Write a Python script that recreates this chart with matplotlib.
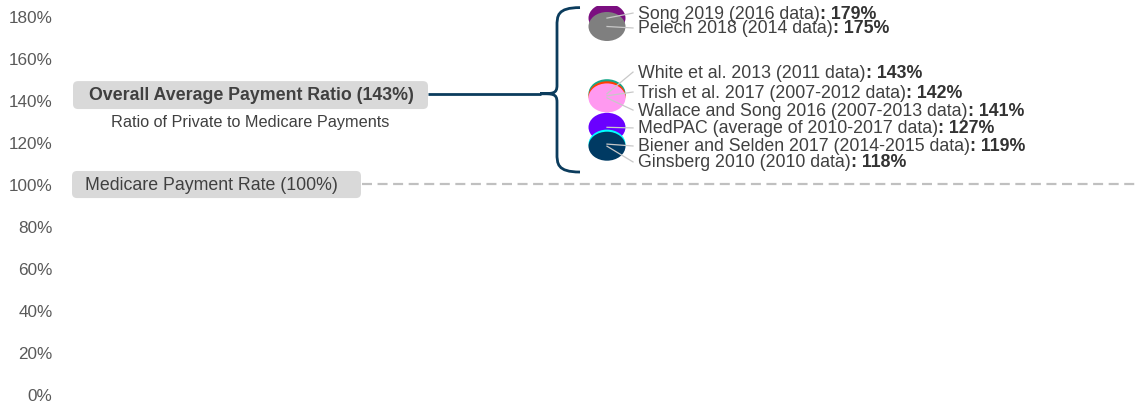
import matplotlib
matplotlib.use("Agg")
import matplotlib.pyplot as plt
from matplotlib.patches import Ellipse, FancyBboxPatch, PathPatch
from matplotlib.path import Path

plt.rcParams['font.family'] = ['Liberation Sans', 'DejaVu Sans']

# ---- data ----
studies = ["Song 2019 (2016 data)", "Pelech 2018 (2014 data)", "White et al. 2013 (2011 data)",
           "Trish et al. 2017 (2007-2012 data)", "Wallace and Song 2016 (2007-2013 data)",
           "MedPAC (average of 2010-2017 data)", "Biener and Selden 2017 (2014-2015 data)",
           "Ginsberg 2010 (2010 data)"]
ratios = [179, 175, 143, 142, 141, 127, 119, 118]
colors = ["#7B0F80", "#7F7F7F", "#17A88A", "#FF4000", "#FF99F0", "#6A00FF", "#00FFFF", "#003A63"]
label_y = [181.4, 174.3, 153.3, 143.8, 135.2, 126.7, 118.1, 110.5]
overall_avg = 143
medicare_rate = 100
yticks = [0, 20, 40, 60, 80, 100, 120, 140, 160, 180]
yticklabels = [f"{v}%" for v in yticks]

W, H = 1137, 402
fig = plt.figure(figsize=(W / 100, H / 100), dpi=100)
left_px = 65
ax = fig.add_axes([left_px / W, 7 / H, (W - left_px) / W, 388.5 / H])
ax.set_xlim(left_px, W)
ax.set_ylim(0, 185)
for s in ax.spines.values():
    s.set_visible(False)
ax.set_xticks([])
ax.set_yticks(yticks)
ax.set_yticklabels(yticklabels)
ax.tick_params(axis='y', length=0, pad=9, labelsize=12.3, labelcolor="#595959")

px_per_unit = 388.5 / 185.0
aspect = 1 / px_per_unit

# Medicare dashed line
ax.plot([362, W], [medicare_rate, medicare_rate], color="#C0C0C0", lw=1.6,
        linestyle=(0, (4.5, 2.5)), zorder=1)

# boxes
box1 = FancyBboxPatch((73, 135.7), 355, 13.3, boxstyle="round,pad=0,rounding_size=5",
                      mutation_aspect=aspect, fc="#D9D9D9", ec="none", zorder=2)
ax.add_patch(box1)
ax.text(251, 142.4, f"Overall Average Payment Ratio ({overall_avg}%)", ha="center", va="center",
        fontsize=12.8, fontweight="bold", color="#404040", zorder=3)
ax.text(250, 130.0, "Ratio of Private to Medicare Payments", ha="center", va="center",
        fontsize=11.7, color="#404040")
box2 = FancyBboxPatch((72, 93.3), 289, 12.9, boxstyle="round,pad=0,rounding_size=5",
                      mutation_aspect=aspect, fc="#D9D9D9", ec="none", zorder=2)
ax.add_patch(box2)
ax.text(211, 99.6, f"Medicare Payment Rate ({medicare_rate}%)", ha="center", va="center",
        fontsize=12.8, color="#404040", zorder=3)

# connector line and brace
navy = "#0B3C5D"
ax.plot([428, 541], [overall_avg, overall_avg], color=navy, lw=2, solid_capstyle="butt")
top, bot, xv, xe, xt = 184, 105.7, 557, 580, 540
verts = [(xe, top), (xv, top), (xv, top - 4), (xv, top - 9),
         (xv, overall_avg + 4),
         (xv, overall_avg), (xv - 4, overall_avg), (xt, overall_avg),
         (xv - 4, overall_avg), (xv, overall_avg), (xv, overall_avg - 4),
         (xv, bot + 9),
         (xv, bot + 4), (xv, bot), (xe, bot)]
codes = [Path.MOVETO, Path.CURVE4, Path.CURVE4, Path.CURVE4,
         Path.LINETO,
         Path.CURVE4, Path.CURVE4, Path.CURVE4,
         Path.CURVE4, Path.CURVE4, Path.CURVE4,
         Path.LINETO,
         Path.CURVE4, Path.CURVE4, Path.CURVE4]
ax.add_patch(PathPatch(Path(verts, codes), fc="none", ec=navy, lw=2))

# ellipses, leader lines, labels
cx = 607
ew, eh = 37, 29 / px_per_unit
for i, (name, r, c, ly) in enumerate(zip(studies, ratios, colors, label_y)):
    ax.add_patch(Ellipse((cx, r), ew, eh, fc=c, ec="none", zorder=4 + i))
for name, r, ly in zip(studies, ratios, label_y):
    ax.plot([cx, 633], [r, ly], color="#C8C8C8", lw=0.9, zorder=20)
    t = ax.text(638, ly, name, ha="left", va="center", fontsize=12.8, color="#404040", zorder=21)
    ax.annotate(f": {r}%", xy=(1, 0), xycoords=t, ha="left", va="bottom",
                fontsize=12.8, fontweight="bold", color="#333333", zorder=21)

fig.savefig("out.png", dpi=100)
